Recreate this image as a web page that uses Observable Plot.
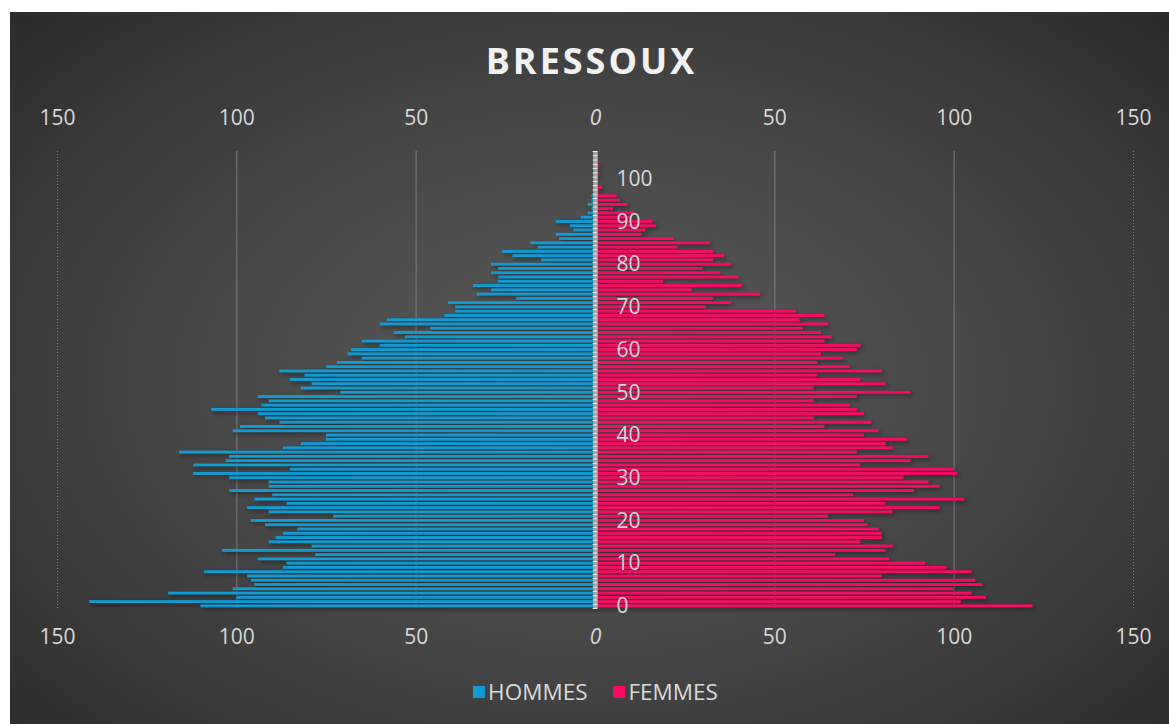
<!DOCTYPE html>
<html>
<head>
<meta charset="utf-8">
<script src="https://cdn.jsdelivr.net/npm/d3@7"></script>
<script src="https://cdn.jsdelivr.net/npm/@observablehq/plot@0.6"></script>
<style>
  html, body { margin: 0; padding: 0; background: #ffffff; }
  #panel {
    position: absolute; left: 10px; top: 12px; width: 1159px; height: 712px;
    background: radial-gradient(ellipse 70% 75% at 50% 52%, #5b5b5b 0%, #444444 55%, #2b2b2b 100%);
    overflow: hidden;
    font-family: "Open Sans", "Liberation Sans", sans-serif;
  }
  #title {
    position: absolute; left: 4px; right: 0; top: 24px; text-align: center;
    color: #f2f2f2; font-weight: 700; font-size: 36px; letter-spacing: 3px;
  }
  #chart { position: absolute; left: 0; top: 0; }
  #legend {
    position: absolute; left: 12px; right: 0; top: 664px; display: flex; justify-content: center;
    gap: 26px; color: #d9d9d9; font-size: 22.5px; align-items: center;
  }
  .sw { display: inline-block; width: 12px; height: 12px; margin-right: 3px; }
  .item { display: flex; align-items: center; }
</style>
</head>
<body>
<div id="panel">
  <div id="chart"></div>
  <div id="title">BRESSOUX</div>
  <div id="legend">
    <div class="item"><span class="sw" style="background:#0f9bd3"></span>HOMMES</div>
    <div class="item"><span class="sw" style="background:#fb0a64"></span>FEMMES</div>
  </div>
</div>
<script>
// ---- data ----
const ages = d3.range(0, 104);
const hommes = [110,141,100,119,101,95,96,97,109,87,
  86,94,78,104,79,91,89,87,83,92,
  96,73,91,97,86,95,90,102,91,91,
  102,112,85,112,103,102,116,87,82,75,
  75,101,99,88,92,94,107,93,91,94,
  71,82,79,85,81,88,75,72,65,69,
  68,60,65,53,56,46,60,58,42,39,
  39,41,22,33,29,34,27,27,29,27,
  29,15,23,26,16,18,10,11,6,7,
  11,4,2,1,2,1,1,0,0,0,
  0,0,0,0];
const femmes = [122,102,109,105,100,108,106,80,105,98,
  92,82,67,81,83,74,80,80,79,76,
  75,65,83,96,81,103,72,89,96,93,
  86,101,100,74,88,93,73,83,81,87,
  75,79,64,77,61,75,73,71,61,73,
  88,61,81,74,62,80,71,62,69,63,
  73,74,64,66,63,58,65,57,64,56,
  31,38,33,46,27,41,19,40,35,30,
  38,33,36,33,23,32,22,13,14,17,
  16,10,11,5,9,7,6,1,2,0,
  0,1,0,1];
const xTicks = [-150, -100, -50, 0, 50, 100, 150];
const gridValues = [-100, -50, 50, 100];
const edgeValues = [-150, 150];
const ageTicks = [0, 10, 20, 30, 40, 50, 60, 70, 80, 90, 100];

const BLUE = "#0f9bd3", PINK = "#fb0a64";
const data = ages.map((a, i) => ({age: a, h: hommes[i], f: femmes[i]}));
const boundaries = d3.range(-0.5, 106.6, 1);

const chart = Plot.plot({
  width: 1159, height: 712,
  marginLeft: 47, marginRight: 36, marginTop: 139, marginBottom: 116,
  x: {domain: [-150, 150]},
  y: {domain: [-0.5, 106.5], axis: null},
  style: {background: "transparent", color: "#d9d9d9", fontFamily: "'Open Sans', sans-serif", fontSize: "21px"},
  marks: [
    Plot.ruleX(gridValues, {stroke: "#8a8a8a", strokeOpacity: 0.55, strokeWidth: 1.5}),
    Plot.ruleX(edgeValues, {stroke: "#9a9a9a", strokeOpacity: 0.7, strokeDasharray: "1,2"}),
    Plot.rectX(data, {x1: 0, x2: d => -d.h, y1: d => d.age - 0.34, y2: d => d.age + 0.34, fill: BLUE}),
    Plot.rectX(data, {x1: 0, x2: d => d.f, y1: d => d.age - 0.34, y2: d => d.age + 0.34, fill: PINK}),
    Plot.ruleX([0], {stroke: "#a8a8a8", strokeWidth: 4.5}),
    Plot.ruleY(boundaries, {y: d => d, x1: -0.65, x2: 0.65, stroke: "#ececec", strokeWidth: 1}),
    Plot.axisX(xTicks, {anchor: "top", tickSize: 0, tickPadding: 27, tickFormat: d => Math.abs(d), fill: "#d9d9d9", fontSize: 21}),
    Plot.axisX(xTicks, {anchor: "bottom", tickSize: 0, tickPadding: 21, tickFormat: d => Math.abs(d), fill: "#d9d9d9", fontSize: 21}),
    Plot.text(ageTicks, {x: 0, y: d => d, text: d => String(d), dx: 21, textAnchor: "start", fill: "#d9d9d9", fontSize: 21})
  ]
});
// italic zero on value axes, shadows on bars
chart.querySelectorAll('g[aria-label="x-axis tick label"] text').forEach(t => {
  if (t.textContent.trim() === "0") t.style.fontStyle = "italic";
});
chart.querySelectorAll('g[aria-label="rect"]').forEach(g => {
  g.style.filter = "drop-shadow(2px 2px 2px rgba(0,0,0,0.45))";
});
document.getElementById("chart").appendChild(chart);
</script>
</body>
</html>
